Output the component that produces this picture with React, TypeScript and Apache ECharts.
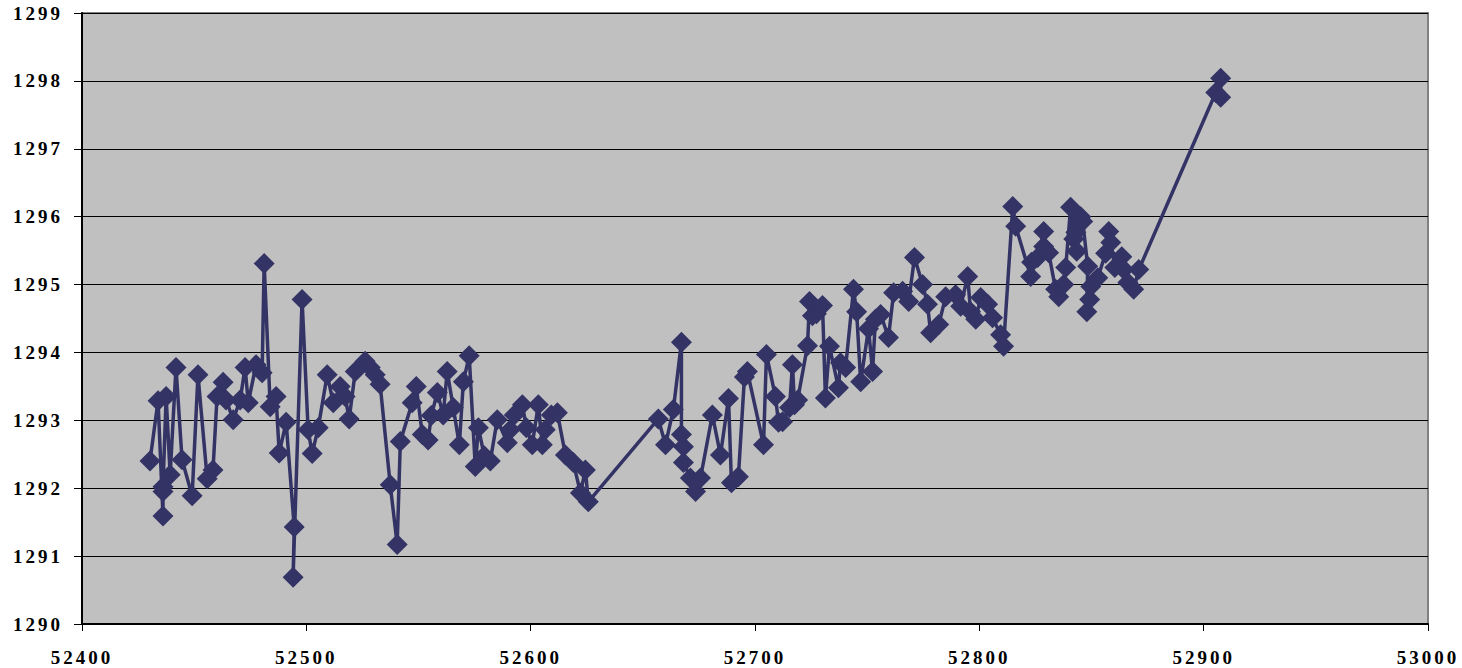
import React, { useEffect, useRef } from "react";
import * as echarts from "echarts";

const xValues: number[] = [
  52430.3, 52433.9, 52436.1, 52436.1, 52436.1, 52437.5, 52439.3, 52441.9, 52444.6, 52449.1,
  52451.7, 52455.8, 52458.4, 52460.2, 52462.9, 52464.2, 52467.4, 52470.5, 52472.7, 52474.1,
  52477.6, 52480.3, 52481.2, 52483.9, 52486.5, 52487.9, 52491.0, 52494.6, 52494.1, 52498.1,
  52500.8, 52502.6, 52505.3, 52509.3, 52512.0, 52515.1, 52517.3, 52519.1, 52521.8, 52526.2,
  52528.5, 52530.7, 52532.9, 52537.4, 52540.5, 52541.9, 52547.2, 52549.0, 52551.7, 52554.3,
  52555.7, 52558.4, 52561.0, 52562.8, 52565.5, 52568.2, 52570.0, 52572.6, 52575.3, 52576.7,
  52579.3, 52582.0, 52585.1, 52589.6, 52590.9, 52592.7, 52596.3, 52598.1, 52600.7, 52603.4,
  52605.2, 52606.5, 52609.2, 52611.9, 52615.5, 52619.0, 52622.2, 52624.4, 52625.7,
  52656.9, 52660.1, 52663.6, 52667.2, 52667.2, 52668.1, 52668.1, 52671.2, 52673.5, 52675.7,
  52681.0, 52684.6, 52688.2, 52689.5, 52692.6, 52695.3, 52696.6, 52703.8, 52705.1, 52709.1,
  52710.5, 52712.3, 52715.4, 52716.7, 52717.6, 52719.0, 52723.4, 52724.3, 52725.6, 52727.4,
  52730.1, 52731.4, 52733.2, 52737.2, 52738.1, 52740.4, 52743.9, 52745.3, 52747.1, 52750.6,
  52752.4, 52753.7, 52756.0, 52759.5, 52761.8, 52765.8, 52768.5, 52771.1, 52774.7, 52776.9,
  52778.3, 52781.9, 52785.0, 52789.4, 52791.7, 52794.8, 52796.1, 52798.4, 52800.6, 52803.7,
  52805.9, 52809.5, 52810.8, 52814.9, 52816.2, 52822.9, 52823.3, 52826.0, 52828.7, 52828.7,
  52830.9, 52834.0, 52835.4, 52837.6, 52838.5, 52840.7, 52842.1, 52843.0, 52843.4, 52845.2,
  52846.1, 52848.3, 52847.9, 52849.2, 52849.7, 52852.8, 52856.3, 52857.7, 52858.6, 52860.4,
  52863.5, 52864.4, 52866.2, 52868.8, 52871.1, 52905.4, 52907.6, 52907.6,
];

const yValues: number[] = [
  1292.40, 1293.29, 1291.59, 1291.95, 1292.02, 1293.35, 1292.20, 1293.78, 1292.42, 1291.89,
  1293.67, 1292.14, 1292.27, 1293.35, 1293.56, 1293.30, 1293.01, 1293.30, 1293.78, 1293.26,
  1293.82, 1293.70, 1295.31, 1293.20, 1293.35, 1292.52, 1292.97, 1291.43, 1290.69, 1294.78,
  1292.86, 1292.51, 1292.89, 1293.67, 1293.26, 1293.50, 1293.35, 1293.02, 1293.72, 1293.87,
  1293.78, 1293.67, 1293.53, 1292.05, 1291.17, 1292.69, 1293.26, 1293.50, 1292.79, 1292.71,
  1293.07, 1293.41, 1293.08, 1293.72, 1293.19, 1292.64, 1293.57, 1293.95, 1292.32, 1292.89,
  1292.48, 1292.40, 1293.01, 1292.67, 1292.86, 1293.08, 1293.23, 1292.89, 1292.64, 1293.23,
  1292.64, 1292.86, 1293.08, 1293.11, 1292.49, 1292.38, 1291.93, 1292.27, 1291.80,
  1293.02, 1292.64, 1293.16, 1294.15, 1292.79, 1292.61, 1292.38, 1292.15, 1291.95, 1292.15,
  1293.08, 1292.49, 1293.32, 1292.08, 1292.17, 1293.64, 1293.72, 1292.64, 1293.97, 1293.35,
  1292.97, 1292.98, 1293.19, 1293.82, 1293.23, 1293.30, 1294.10, 1294.75, 1294.54, 1294.57,
  1294.69, 1293.33, 1294.09, 1293.48, 1293.85, 1293.78, 1294.93, 1294.60, 1293.57, 1294.35,
  1293.72, 1294.49, 1294.56, 1294.22, 1294.88, 1294.90, 1294.75, 1295.40, 1295.00, 1294.71,
  1294.29, 1294.41, 1294.82, 1294.85, 1294.68, 1295.12, 1294.60, 1294.49, 1294.81, 1294.71,
  1294.51, 1294.26, 1294.09, 1296.15, 1295.86, 1295.12, 1295.33, 1295.40, 1295.78, 1295.56,
  1295.47, 1294.93, 1294.82, 1295.00, 1295.25, 1296.14, 1295.67, 1295.77, 1295.49, 1296.00,
  1295.93, 1295.27, 1294.60, 1294.78, 1294.97, 1295.10, 1295.46, 1295.78, 1295.62, 1295.25,
  1295.41, 1295.22, 1295.03, 1294.93, 1295.22, 1297.83, 1298.04, 1297.76,
];

const xTicks = { min: 52400, max: 53000, step: 100 };
const yTicks = { min: 1290, max: 1299, step: 1 };

const labelFont = {
  color: "#000000",
  fontFamily: "'Liberation Serif', 'Times New Roman', serif",
  fontWeight: "bold" as const,
  fontSize: 19,
  formatter: (v: number) => String(Math.round(v)),
};

export default function App() {
  const ref = useRef<HTMLDivElement>(null);

  useEffect(() => {
    if (!ref.current) return;
    const chart = echarts.init(ref.current, null, { renderer: "svg" });
    const data = xValues.map((x, i) => [x, yValues[i]]);

    const spaceLetters = () => {
      if (!ref.current) return;
      ref.current.querySelectorAll("text").forEach((t) => {
        t.setAttribute("letter-spacing", "3");
      });
    };

    chart.on("finished", spaceLetters);

    chart.setOption({
      animation: false,
      backgroundColor: "#ffffff",
      grid: {
        left: 82,
        right: 34,
        top: 13,
        bottom: 44,
        show: true,
        backgroundColor: "#C0C0C0",
        borderColor: "#808080",
        borderWidth: 2,
      },
      xAxis: {
        type: "value",
        min: xTicks.min,
        max: xTicks.max,
        interval: xTicks.step,
        axisLine: { show: true, onZero: false, lineStyle: { color: "#000000", width: 2 } },
        axisTick: { show: true, inside: false, length: 7, lineStyle: { color: "#000000", width: 1 } },
        axisLabel: { ...labelFont, margin: 24 },
        splitLine: { show: false },
      },
      yAxis: {
        type: "value",
        min: yTicks.min,
        max: yTicks.max,
        interval: yTicks.step,
        axisLine: { show: true, onZero: false, lineStyle: { color: "#000000", width: 2 } },
        axisTick: { show: true, inside: false, length: 8, lineStyle: { color: "#000000", width: 1 } },
        axisLabel: { ...labelFont, margin: 19 },
        splitLine: { show: true, lineStyle: { color: "#000000", width: 1 } },
      },
      series: [
        {
          type: "line",
          data,
          symbol: "diamond",
          symbolSize: 21,
          showAllSymbol: true,
          lineStyle: { color: "#333366", width: 3.5 },
          itemStyle: { color: "#333366", borderColor: "#333366", borderWidth: 0 },
          emphasis: { disabled: true },
          silent: true,
          z: 3,
        },
      ],
    });
    spaceLetters();

    return () => {
      chart.dispose();
    };
  }, []);

  return (
    <div
      ref={ref}
      style={{ position: "fixed", left: 0, top: 0, width: 1462, height: 668, background: "#ffffff" }}
    />
  );
}
